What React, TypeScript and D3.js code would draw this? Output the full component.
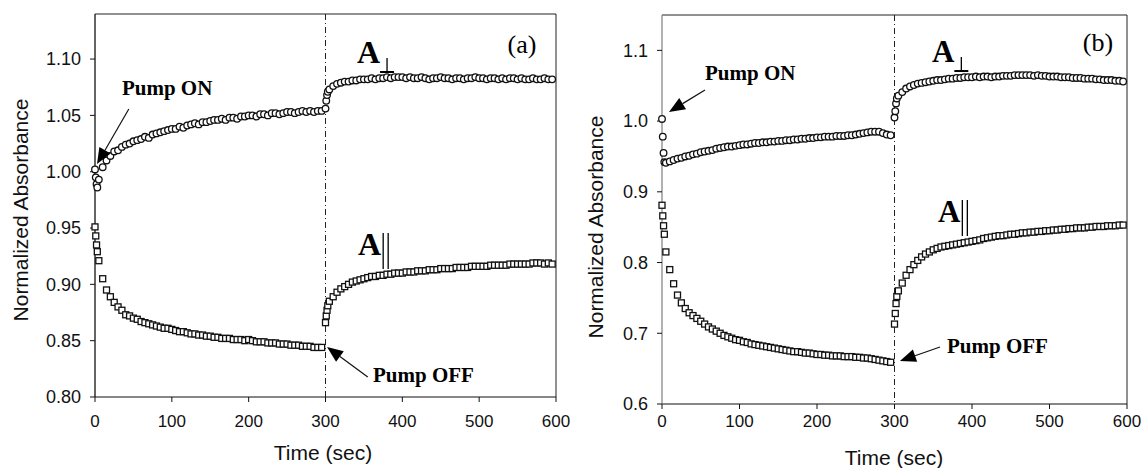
import React from "react";
import * as d3 from "d3";

// ---- sampling grid (seconds) ----
const T_PHASE1 = [0, 1, 2, 3, ...d3.range(5, 300, 5)];
const T_PHASE2 = [300, 301, 302, 303, ...d3.range(305, 600, 5)];
const X_TICKS = [0, 100, 200, 300, 400, 500, 600];
const Y_TICKS_A = [0.8, 0.85, 0.9, 0.95, 1.0, 1.05, 1.1];
const Y_TICKS_B = [0.6, 0.7, 0.8, 0.9, 1.0, 1.1];

// ---- panel (a) ----
const PERP_A_ON = [
  1.002, 0.995, 0.989, 0.986,
  0.993, 1.004, 1.010, 1.014, 1.018, 1.019, 1.022, 1.024, 1.025, 1.027,
  1.028, 1.029, 1.031, 1.030, 1.033, 1.034, 1.035, 1.036, 1.037, 1.038,
  1.038, 1.040, 1.039, 1.041, 1.042, 1.043, 1.042, 1.044, 1.044, 1.045,
  1.046, 1.046, 1.047, 1.046, 1.048, 1.048, 1.047, 1.049, 1.049, 1.050,
  1.050, 1.049, 1.051, 1.051, 1.050, 1.052, 1.052, 1.051, 1.052, 1.053,
  1.053, 1.052, 1.053, 1.054, 1.053, 1.054, 1.053, 1.054, 1.054,
];
const PERP_A_OFF = [
  1.056, 1.063, 1.068, 1.071,
  1.073, 1.076, 1.078, 1.079, 1.080, 1.080, 1.081, 1.081, 1.082, 1.082,
  1.082, 1.083, 1.082, 1.083, 1.083, 1.084, 1.083, 1.084, 1.084, 1.084,
  1.083, 1.084, 1.083, 1.083, 1.084, 1.083, 1.082, 1.083, 1.083, 1.084,
  1.083, 1.083, 1.082, 1.083, 1.083, 1.082, 1.083, 1.083, 1.084, 1.083,
  1.083, 1.082, 1.083, 1.083, 1.082, 1.083, 1.082, 1.083, 1.083, 1.082,
  1.083, 1.082, 1.082, 1.083, 1.082, 1.082, 1.083, 1.082, 1.082,
];
const PAR_A_ON = [
  0.951, 0.943, 0.935, 0.929,
  0.921, 0.905, 0.895, 0.889, 0.884, 0.880, 0.877, 0.873, 0.872, 0.870,
  0.869, 0.867, 0.866, 0.865, 0.864, 0.863, 0.862, 0.861, 0.861, 0.860,
  0.859, 0.858, 0.858, 0.857, 0.856, 0.856, 0.855, 0.855, 0.854, 0.854,
  0.853, 0.853, 0.852, 0.852, 0.852, 0.851, 0.851, 0.851, 0.850, 0.851,
  0.850, 0.849, 0.849, 0.849, 0.848, 0.848, 0.848, 0.847, 0.847, 0.847,
  0.846, 0.846, 0.846, 0.845, 0.845, 0.845, 0.844, 0.844, 0.844,
];
const PAR_A_OFF = [
  0.866, 0.872, 0.877, 0.881,
  0.885, 0.889, 0.893, 0.896, 0.898, 0.900, 0.902, 0.903, 0.904, 0.905,
  0.906, 0.907, 0.907, 0.908, 0.908, 0.909, 0.909, 0.910, 0.910, 0.910,
  0.911, 0.911, 0.911, 0.912, 0.912, 0.912, 0.913, 0.913, 0.913, 0.914,
  0.914, 0.914, 0.914, 0.915, 0.915, 0.915, 0.915, 0.916, 0.916, 0.916,
  0.916, 0.916, 0.917, 0.917, 0.917, 0.917, 0.917, 0.918, 0.918, 0.918,
  0.918, 0.918, 0.918, 0.919, 0.919, 0.919, 0.918, 0.919, 0.918,
];

// ---- panel (b) ----
const PERP_B_ON = [
  1.003, 0.978, 0.955, 0.942,
  0.941, 0.943, 0.945, 0.947, 0.948, 0.950, 0.951, 0.953, 0.954, 0.956,
  0.957, 0.958, 0.959, 0.961, 0.962, 0.963, 0.964, 0.964, 0.965, 0.966,
  0.967, 0.967, 0.968, 0.969, 0.969, 0.970, 0.970, 0.971, 0.971, 0.972,
  0.972, 0.973, 0.973, 0.974, 0.974, 0.975, 0.975, 0.976, 0.976, 0.977,
  0.977, 0.978, 0.978, 0.978, 0.979, 0.979, 0.979, 0.980, 0.980, 0.981,
  0.982, 0.983, 0.984, 0.985, 0.985, 0.985, 0.983, 0.981, 0.980,
];
const PERP_B_OFF = [
  1.005, 1.014, 1.025, 1.032,
  1.036, 1.041, 1.046, 1.049, 1.051, 1.053, 1.054, 1.055, 1.056, 1.057,
  1.058, 1.058, 1.059, 1.060, 1.060, 1.061, 1.061, 1.062, 1.062, 1.062,
  1.063, 1.062, 1.063, 1.063, 1.062, 1.063, 1.063, 1.064, 1.064, 1.064,
  1.065, 1.065, 1.065, 1.065, 1.065, 1.064, 1.065, 1.064, 1.064, 1.063,
  1.063, 1.063, 1.062, 1.062, 1.062, 1.061, 1.061, 1.061, 1.060, 1.060,
  1.060, 1.059, 1.059, 1.058, 1.058, 1.058, 1.057, 1.057, 1.056,
];
const PAR_B_ON = [
  0.881, 0.866, 0.852, 0.840,
  0.815, 0.790, 0.770, 0.754, 0.743, 0.735, 0.729, 0.725, 0.721, 0.717,
  0.713, 0.709, 0.706, 0.703, 0.700, 0.697, 0.695, 0.693, 0.691, 0.690,
  0.688, 0.687, 0.685, 0.684, 0.683, 0.682, 0.681, 0.680, 0.679, 0.678,
  0.677, 0.676, 0.675, 0.674, 0.674, 0.673, 0.672, 0.672, 0.671, 0.670,
  0.670, 0.669, 0.669, 0.668, 0.668, 0.668, 0.667, 0.667, 0.667, 0.666,
  0.666, 0.665, 0.665, 0.664, 0.663, 0.662, 0.661, 0.660, 0.659,
];
const PAR_B_OFF = [
  0.713, 0.728, 0.742, 0.752,
  0.760, 0.771, 0.782, 0.790, 0.797, 0.803, 0.808, 0.812, 0.815, 0.818,
  0.820, 0.822, 0.823, 0.824, 0.825, 0.826, 0.827, 0.828, 0.829, 0.830,
  0.831, 0.832, 0.834, 0.835, 0.836, 0.837, 0.838, 0.838, 0.839, 0.840,
  0.840, 0.841, 0.842, 0.842, 0.843, 0.843, 0.844, 0.844, 0.845, 0.845,
  0.846, 0.846, 0.847, 0.847, 0.848, 0.848, 0.849, 0.849, 0.849, 0.850,
  0.850, 0.851, 0.851, 0.851, 0.852, 0.852, 0.852, 0.853, 0.853,
];

const SANS = "'Liberation Sans', Arial, Helvetica, sans-serif";
const SERIF = "'Liberation Serif', 'Times New Roman', Times, serif";

type Pt = { t: number; v: number };
const zip = (ts: number[], vs: number[]): Pt[] => vs.map((v, i) => ({ t: ts[i], v }));

type PanelCfg = {
  x0: number; x1: number; yTop: number; yBot: number;
  yDomain: [number, number]; yTicks: number[]; fmt: string;
  perp: Pt[]; par: Pt[]; leftAxisColor: string;
  tag: string; tagAt: Pt;
  onText: Pt; onFrom: Pt; onTip: Pt;
  offText: Pt; offFrom: Pt; offTip: Pt;
  perpLbl: Pt; parLbl: Pt; aSize: number;
  yTitle: [number, number]; xTitle: [number, number];
};

const panels: PanelCfg[] = [
  {
    x0: 95, x1: 556, yTop: 14, yBot: 397,
    yDomain: [0.8, 1.14], yTicks: Y_TICKS_A, fmt: ".2f",
    perp: [...zip(T_PHASE1, PERP_A_ON), ...zip(T_PHASE2, PERP_A_OFF)],
    par: [...zip(T_PHASE1, PAR_A_ON), ...zip(T_PHASE2, PAR_A_OFF)],
    leftAxisColor: "#111",
    tag: "(a)", tagAt: { t: 537, v: 1.1054 },
    onText: { t: 35, v: 1.0681 }, onFrom: { t: 44, v: 1.0557 }, onTip: { t: 2.6, v: 1.0068 },
    offText: { t: 361.8, v: 0.8133 }, offFrom: { t: 355, v: 0.8178 }, offTip: { t: 302, v: 0.8444 },
    perpLbl: { t: 341, v: 1.0965 }, parLbl: { t: 342.3, v: 0.926 }, aSize: 32,
    yTitle: [28, 210], xTitle: [323, 460],
  },
  {
    x0: 662, x1: 1127, yTop: 15, yBot: 404,
    yDomain: [0.6, 1.15], yTicks: Y_TICKS_B, fmt: ".1f",
    perp: [...zip(T_PHASE1, PERP_B_ON), ...zip(T_PHASE2, PERP_B_OFF)],
    par: [...zip(T_PHASE1, PAR_B_ON), ...zip(T_PHASE2, PAR_B_OFF)],
    leftAxisColor: "#888",
    tag: "(b)", tagAt: { t: 543, v: 1.0991 },
    onText: { t: 55.5, v: 1.0581 }, onFrom: { t: 55.5, v: 1.044 }, onTip: { t: 9, v: 1.0129 },
    offText: { t: 367.7, v: 0.6721 }, offFrom: { t: 358.7, v: 0.6806 }, offTip: { t: 307, v: 0.6608 },
    perpLbl: { t: 348.4, v: 1.0835 }, parLbl: { t: 356, v: 0.8573 }, aSize: 31,
    yTitle: [603, 227], xTitle: [894, 465],
  },
];

function Arrow({ x1, y1, x2, y2 }: { x1: number; y1: number; x2: number; y2: number }) {
  const dx = x2 - x1, dy = y2 - y1;
  const len = Math.hypot(dx, dy);
  const ux = dx / len, uy = dy / len;
  const hl = 16, hw = 6.5;
  const bx = x2 - ux * hl, by = y2 - uy * hl;
  const p = `${x2},${y2} ${bx - uy * hw},${by + ux * hw} ${bx + uy * hw},${by - ux * hw}`;
  return (
    <g>
      <line x1={x1} y1={y1} x2={bx} y2={by} stroke="#111" strokeWidth={1.2} />
      <polygon points={p} fill="#000" />
    </g>
  );
}

function Panel({ c }: { c: PanelCfg }) {
  const x = d3.scaleLinear().domain([0, 600]).range([c.x0, c.x1]);
  const y = d3.scaleLinear().domain(c.yDomain).range([c.yBot, c.yTop]);
  const f = d3.format(c.fmt);
  const sq = 6;
  const perpX = x(c.perpLbl.t) + c.aSize * 0.72;
  const perpY = y(c.perpLbl.v) + 9;
  return (
    <g>
      {/* frame */}
      <line x1={c.x0} y1={c.yTop} x2={c.x1} y2={c.yTop} stroke="#222" strokeWidth={1} />
      <line x1={c.x1} y1={c.yTop} x2={c.x1} y2={c.yBot} stroke="#222" strokeWidth={1} />
      <line x1={c.x0} y1={c.yBot} x2={c.x1} y2={c.yBot} stroke="#111" strokeWidth={1.2} />
      <line x1={c.x0} y1={c.yTop} x2={c.x0} y2={c.yBot} stroke={c.leftAxisColor} strokeWidth={1.3} />
      {/* y ticks */}
      {c.yTicks.map((tv) => (
        <g key={tv}>
          <line x1={c.x0 - 5} x2={c.x0} y1={y(tv)} y2={y(tv)} stroke="#111" strokeWidth={1} />
          <text x={c.x0 - 14} y={y(tv)} dy="0.35em" textAnchor="end" fontFamily={SANS} fontSize={18} fill="#111">
            {f(tv)}
          </text>
        </g>
      ))}
      {/* x ticks */}
      {X_TICKS.map((tv) => (
        <g key={tv}>
          <line x1={x(tv)} x2={x(tv)} y1={c.yBot} y2={c.yBot + 5} stroke="#111" strokeWidth={1} />
          <text x={x(tv)} y={427} textAnchor="middle" fontFamily={SANS} fontSize={17} fill="#111">
            {tv}
          </text>
        </g>
      ))}
      {/* pump-off marker line */}
      <line x1={x(300)} x2={x(300)} y1={c.yTop} y2={c.yBot} stroke="#222" strokeWidth={1} strokeDasharray="6 3 1 3" />
      {/* data */}
      {c.par.map((d, i) => (
        <rect key={"s" + i} x={x(d.t) - sq / 2} y={y(d.v) - sq / 2} width={sq} height={sq}
          fill="#fff" stroke="#111" strokeWidth={1.3} />
      ))}
      {c.perp.map((d, i) => (
        <circle key={"c" + i} cx={x(d.t)} cy={y(d.v)} r={3.3} fill="#fff" stroke="#111" strokeWidth={1.3} />
      ))}
      {/* annotations */}
      <text x={x(c.onText.t)} y={y(c.onText.v)} fontFamily={SERIF} fontWeight="bold" fontSize={21} fill="#000">Pump ON</text>
      <Arrow x1={x(c.onFrom.t)} y1={y(c.onFrom.v)} x2={x(c.onTip.t)} y2={y(c.onTip.v)} />
      <text x={x(c.offText.t)} y={y(c.offText.v)} fontFamily={SERIF} fontWeight="bold" fontSize={21} fill="#000">Pump OFF</text>
      <Arrow x1={x(c.offFrom.t)} y1={y(c.offFrom.v)} x2={x(c.offTip.t)} y2={y(c.offTip.v)} />
      <text x={x(c.tagAt.t)} y={y(c.tagAt.v)} fontFamily={SERIF} fontSize={26} fill="#000">{c.tag}</text>
      {/* A perpendicular */}
      <text x={x(c.perpLbl.t)} y={y(c.perpLbl.v)} fontFamily={SERIF} fontWeight="bold" fontSize={c.aSize} fill="#000">A</text>
      <line x1={perpX + 7} x2={perpX + 7} y1={perpY - 14} y2={perpY} stroke="#000" strokeWidth={1.3} />
      <line x1={perpX} x2={perpX + 14} y1={perpY} y2={perpY} stroke="#000" strokeWidth={2} />
      {/* A parallel */}
      <text x={x(c.parLbl.t)} y={y(c.parLbl.v)} fontFamily={SERIF} fontWeight="bold" fontSize={c.aSize} fill="#000">A</text>
      {[1.5, 6.5].map((o) => (
        <line key={o}
          x1={x(c.parLbl.t) + c.aSize * 0.74 + o} x2={x(c.parLbl.t) + c.aSize * 0.74 + o}
          y1={y(c.parLbl.v) - 22} y2={y(c.parLbl.v) + 14}
          stroke="#000" strokeWidth={1.3} />
      ))}
      {/* axis titles */}
      <text transform={`translate(${c.yTitle[0]},${c.yTitle[1]}) rotate(-90)`} textAnchor="middle"
        fontFamily={SANS} fontSize={21} fill="#111">Normalized Absorbance</text>
      <text x={c.xTitle[0]} y={c.xTitle[1]} textAnchor="middle" fontFamily={SANS} fontSize={21} fill="#111">Time (sec)</text>
    </g>
  );
}

export default function App() {
  return (
    <svg width={1141} height={468} viewBox="0 0 1141 468"
      style={{ position: "absolute", left: 0, top: 0, background: "#fff", display: "block" }}>
      <rect x={0} y={0} width={1141} height={468} fill="#fff" />
      {panels.map((c, i) => <Panel key={i} c={c} />)}
    </svg>
  );
}
